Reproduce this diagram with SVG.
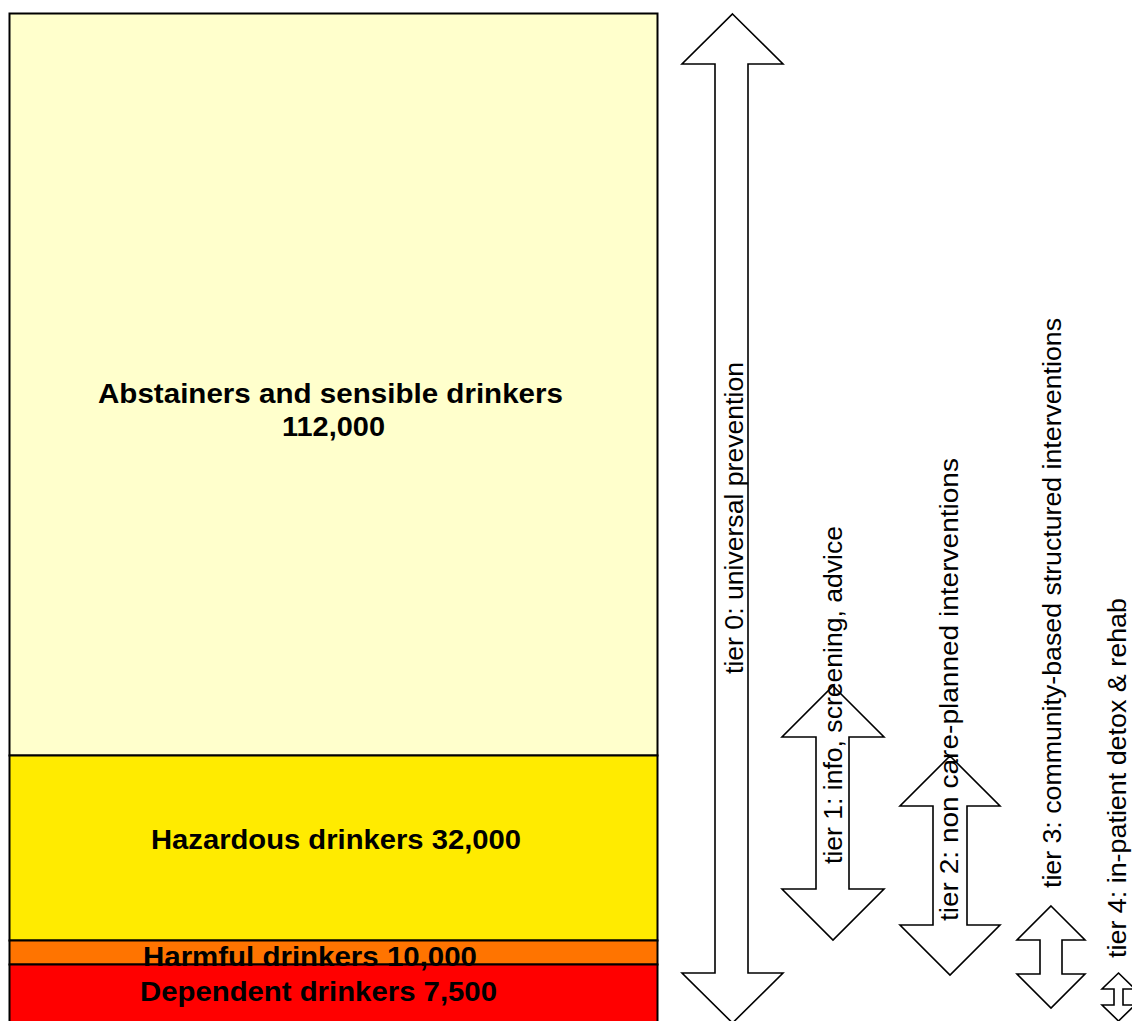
<svg xmlns="http://www.w3.org/2000/svg" width="1132" height="1021" viewBox="0 0 1132 1021">
<style>
.band{stroke:#000;stroke-width:2}
.lbl{font-family:"Liberation Sans",Arial,sans-serif;font-weight:bold;font-size:28px;fill:#000;text-anchor:middle}
.arr{fill:#fff;stroke:#000;stroke-width:1.6;stroke-linejoin:miter}
.tier{font-family:"Liberation Sans",Arial,sans-serif;font-size:25px;fill:#000;text-anchor:middle}
</style>
<rect width="1132" height="1021" fill="#fff"/>
<g id="abstainers">
<rect class="band" x="9.5" y="13.5" width="648" height="742" fill="#FFFFCC"/>
<text class="lbl" x="330.5" y="403" textLength="465" lengthAdjust="spacingAndGlyphs">Abstainers and sensible drinkers</text>
<text class="lbl" x="333.5" y="436" textLength="103" lengthAdjust="spacingAndGlyphs">112,000</text>
</g>
<g id="hazardous">
<rect class="band" x="9.5" y="755.5" width="648" height="185" fill="#FFEB00"/>
<text class="lbl" x="336" y="849" textLength="370" lengthAdjust="spacingAndGlyphs">Hazardous drinkers 32,000</text>
</g>
<g id="harmful">
<rect class="band" x="9.5" y="940.5" width="648" height="24" fill="#FF7400"/>
</g>
<g id="dependent">
<rect class="band" x="9.5" y="964.5" width="648" height="70" fill="#FF0000"/>
<text class="lbl" x="318.5" y="1001" textLength="357" lengthAdjust="spacingAndGlyphs">Dependent drinkers 7,500</text>
</g>
<text class="lbl" x="310" y="966" textLength="334" lengthAdjust="spacingAndGlyphs">Harmful drinkers 10,000</text>
<g id="connectors">
<g id="tier0">
<polygon class="arr" points="732.5,14 783,64 748,64 748,973 783,973 732.5,1023 682,973 715,973 715,64 682,64"/>
<text class="tier" transform="translate(743,518) rotate(-90)" textLength="312" lengthAdjust="spacingAndGlyphs">tier 0: universal prevention</text>
</g>
<g id="tier1">
<polygon class="arr" points="833,686 884,737 849,737 849,889 884,889 833,940 782,889 816,889 816,737 782,737"/>
<text class="tier" transform="translate(842,695) rotate(-90)" textLength="338" lengthAdjust="spacingAndGlyphs">tier 1: info, screening, advice</text>
</g>
<g id="tier2">
<polygon class="arr" points="950,756 1000,806 967,806 967,925 1000,925 950,975 900,925 933,925 933,806 900,806"/>
<text class="tier" transform="translate(958,689.5) rotate(-90)" textLength="463" lengthAdjust="spacingAndGlyphs">tier 2: non care-planned interventions</text>
</g>
<g id="tier3">
<polygon class="arr" points="1051,906 1085,940 1062,940 1062,974 1085,974 1051,1008 1017,974 1040,974 1040,940 1017,940"/>
<text class="tier" transform="translate(1061,603) rotate(-90)" textLength="570" lengthAdjust="spacingAndGlyphs">tier 3: community-based structured interventions</text>
</g>
<g id="tier4">
<polygon class="arr" points="1118.5,973 1135,989 1123,989 1123,1005 1135,1005 1118.5,1021 1102,1005 1114,1005 1114,989 1102,989"/>
<text class="tier" transform="translate(1126,778) rotate(-90)" textLength="360" lengthAdjust="spacingAndGlyphs">tier 4: in-patient detox &amp; rehab</text>
</g>
</g>
</svg>
